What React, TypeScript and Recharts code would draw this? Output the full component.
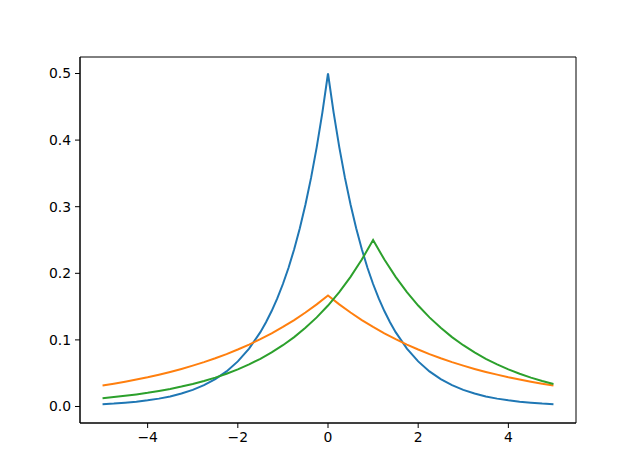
import { Line, LineChart, ReferenceArea, XAxis, YAxis } from "recharts";

// sample positions along x (blue is sampled more densely round its sharp peak)
const xs = [
  -5, -4.75, -4.5, -4.25, -4, -3.75, -3.5, -3.25, -3, -2.75, -2.5, -2.25, -2,
  -1.75, -1.5, -1.25, -1, -0.75, -0.5, -0.25, 0, 0.25, 0.5, 0.75, 1, 1.25, 1.5,
  1.75, 2, 2.25, 2.5, 2.75, 3, 3.25, 3.5, 3.75, 4, 4.25, 4.5, 4.75, 5,
];

const blueXs = [
  -5, -4.75, -4.5, -4.25, -4, -3.75, -3.5, -3.25, -3, -2.75, -2.5, -2.25, -2,
  -1.75, -1.5, -1.375, -1.25, -1.125, -1, -0.875, -0.75, -0.625, -0.5, -0.375,
  -0.25, -0.125, 0, 0.125, 0.25, 0.375, 0.5, 0.625, 0.75, 0.875, 1, 1.125, 1.25,
  1.375, 1.5, 1.75, 2, 2.25, 2.5, 2.75, 3, 3.25, 3.5, 3.75, 4, 4.25, 4.5, 4.75,
  5,
];

const blue = [
  0.0034, 0.0043, 0.0056, 0.0071, 0.0092, 0.0118, 0.0151, 0.0194, 0.0249,
  0.032, 0.041, 0.0527, 0.0677, 0.0869, 0.1116, 0.1264, 0.1433, 0.1623, 0.1839,
  0.2084, 0.2362, 0.2676, 0.3033, 0.3436, 0.3894, 0.4412, 0.5, 0.4412, 0.3894,
  0.3436, 0.3033, 0.2676, 0.2362, 0.2084, 0.1839, 0.1623, 0.1433, 0.1264,
  0.1116, 0.0869, 0.0677, 0.0527, 0.041, 0.032, 0.0249, 0.0194, 0.0151, 0.0118,
  0.0092, 0.0071, 0.0056, 0.0043, 0.0034,
];

const orange = [
  0.0315, 0.0342, 0.0372, 0.0404, 0.0439, 0.0478, 0.0519, 0.0564, 0.0613,
  0.0666, 0.0724, 0.0787, 0.0856, 0.093, 0.1011, 0.1099, 0.1194, 0.1298,
  0.1411, 0.1533, 0.1667, 0.1533, 0.1411, 0.1298, 0.1194, 0.1099, 0.1011,
  0.093, 0.0856, 0.0787, 0.0724, 0.0666, 0.0613, 0.0564, 0.0519, 0.0478,
  0.0439, 0.0404, 0.0372, 0.0342, 0.0315,
];

const green = [
  0.0124, 0.0141, 0.016, 0.0181, 0.0205, 0.0233, 0.0264, 0.0299, 0.0338,
  0.0383, 0.0434, 0.0492, 0.0558, 0.0632, 0.0716, 0.0812, 0.092, 0.1042,
  0.1181, 0.1338, 0.1516, 0.1718, 0.1947, 0.2206, 0.25, 0.2206, 0.1947, 0.1718,
  0.1516, 0.1338, 0.1181, 0.1042, 0.092, 0.0812, 0.0716, 0.0632, 0.0558,
  0.0492, 0.0434, 0.0383, 0.0338,
];

const xTicks = [-4, -2, 0, 2, 4];
const yTicks = [0, 0.1, 0.2, 0.3, 0.4, 0.5];
const xDomain = [-5.5, 5.5];
const yDomain = [-0.0248, 0.5248];

const blueData = blueXs.map((x, i) => ({ x, v: blue[i] }));
const orangeData = xs.map((x, i) => ({ x, v: orange[i] }));
const greenData = xs.map((x, i) => ({ x, v: green[i] }));

const tickStyle = { fill: "#000", fontSize: 13.9, fontFamily: "DejaVu Sans" };

export default function App() {
  return (
    <div style={{ position: "absolute", left: 0, top: 0 }}>
      <LineChart
        width={640}
        height={476}
        margin={{ top: 57, right: 64, bottom: 23, left: 40 }}
      >
        <XAxis
          dataKey="x"
          type="number"
          domain={xDomain}
          ticks={xTicks}
          tickFormatter={(v) => String(v).replace("-", "\u2212")}
          stroke="#000"
          tick={tickStyle}
          tickSize={5}
          tickMargin={4}
          height={30}
          allowDataOverflow
        />
        <YAxis
          type="number"
          domain={yDomain}
          ticks={yTicks}
          tickFormatter={(v) => v.toFixed(1)}
          stroke="#000"
          tick={tickStyle}
          tickSize={5}
          tickMargin={4}
          width={40}
          allowDataOverflow
        />
        {/* frame round the plot area */}
        <ReferenceArea
          x1={xDomain[0]}
          x2={xDomain[1]}
          y1={yDomain[0]}
          y2={yDomain[1]}
          fill="none"
          stroke="#000"
          strokeWidth={1}
          fillOpacity={0}
        />
        <Line
          data={blueData}
          type="linear"
          dataKey="v"
          stroke="#1f77b4"
          strokeWidth={2}
          dot={false}
          isAnimationActive={false}
        />
        <Line
          data={orangeData}
          type="linear"
          dataKey="v"
          stroke="#ff7f0e"
          strokeWidth={2}
          dot={false}
          isAnimationActive={false}
        />
        <Line
          data={greenData}
          type="linear"
          dataKey="v"
          stroke="#2ca02c"
          strokeWidth={2}
          dot={false}
          isAnimationActive={false}
        />
      </LineChart>
    </div>
  );
}
